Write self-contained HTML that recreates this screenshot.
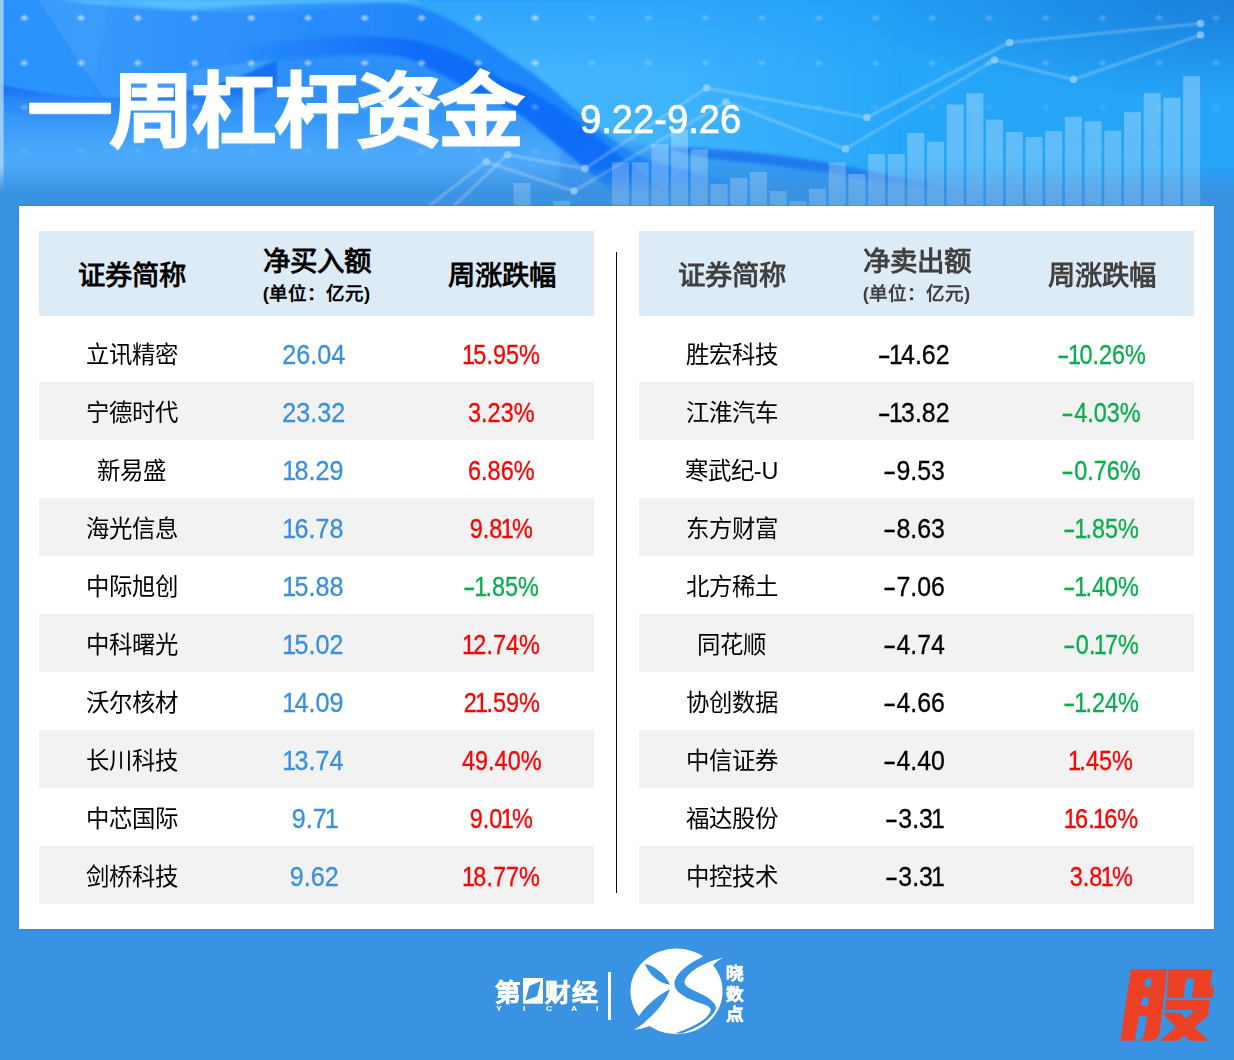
<!DOCTYPE html>
<html lang="zh-CN">
<head>
<meta charset="utf-8">
<title>一周杠杆资金</title>
<style>
html,body{margin:0;padding:0}
body{width:1234px;height:1060px;position:relative;overflow:hidden;background:#3a92e2;font-family:"Liberation Sans",sans-serif}
#hd{position:absolute;left:0;top:0;width:1234px;height:206px;display:block}
#title{position:absolute;left:27.5px;top:52px;margin:0;font-size:80px;line-height:120px;font-weight:900;color:#fff;white-space:nowrap;letter-spacing:-1.7px;-webkit-text-stroke:2.1px #fff;transform-origin:0 50%;transform:scaleX(1.05);text-shadow:-1px 2px 0 rgba(150,205,255,.55)}
#date{-webkit-text-stroke:.7px #fff;position:absolute;left:579.6px;top:97px;font-size:40.5px;line-height:44px;color:#fff;white-space:nowrap;transform-origin:0 50%;transform:scaleX(.942)}
#panel{position:absolute;left:19px;top:206px;width:1195px;height:723px;background:#fff;box-shadow:0 0 1.5px rgba(20,90,190,.7)}
#vline{position:absolute;left:616px;top:252px;width:1px;height:641px;background:#0a0a0a}
.tbl{position:absolute;top:231px;width:555px;height:673px}
.th{position:absolute;left:0;top:0;width:555px;height:85px;background:#ddebf7}
.tr{position:absolute;left:0;width:555px;height:58px}
.tr.alt{background:#f2f2f2}
.c{position:absolute;top:0;height:100%;width:185px;text-align:center;white-space:nowrap}
.c1{left:0}.c2{left:185px}.c3{left:370px}
.h1{font-size:27.3px;font-weight:700;color:#000;line-height:89px}
.h2a{display:block;font-size:27.5px;font-weight:700;color:#000;line-height:30px;margin-top:16px}
.h2b{display:block;font-size:18.5px;font-weight:700;color:#000;line-height:22px;margin-top:6px}
.nm{font-size:23.4px;color:#000;line-height:62px}
.num{font-size:27px;line-height:63.2px}
.num span{display:inline-block;transform:scaleX(.932)}
.num i{font-style:normal;margin:0 -2px}
.num b{font-weight:400;display:inline-block;transform:scaleX(1.6);margin:0 3px 0 2px}
.num{-webkit-text-stroke:.3px currentColor}
.c3.num span{transform:scaleX(.868)}
.c2.num{left:182.6px}
.c2.k span{transform:scaleX(.922)}
.b{color:#3b8fde}.k{color:#000}
.rt .h1,.rt .h2a,.rt .h2b{color:#404040}.r{color:#ff0000}.g{color:#08ae4e}
#ft{position:absolute;left:0;top:929px;width:1234px;height:131px;display:block}
.lg{position:absolute;top:976px;width:26px;height:34px;line-height:34px;font-size:23.3px;font-weight:700;color:#fff;-webkit-text-stroke:.6px #fff;white-space:nowrap;transform-origin:0 50%;transform:scaleX(1.1)}
.yc{position:absolute;top:1004px;height:9px;line-height:9px;font-size:6.4px;font-weight:700;color:#fff;transform-origin:0 50%;transform:scaleX(1.35);white-space:nowrap}
.xs{position:absolute;left:726.4px;width:18px;height:20px;line-height:20px;text-align:center;font-size:16px;font-weight:700;color:#fff;white-space:nowrap;-webkit-text-stroke:.5px #fff;transform:scaleX(1.1)}
</style>
</head>
<body>
<svg id="hd" viewBox="0 0 1234 206">
<defs>
<linearGradient id="bg" x1="0" y1="0" x2="1" y2="0"><stop offset="0" stop-color="#2a92fc"/><stop offset=".3" stop-color="#3298fb"/><stop offset=".5" stop-color="#28a8fb"/><stop offset=".75" stop-color="#26a6f8"/><stop offset="1" stop-color="#26a4f7"/></linearGradient>
<linearGradient id="fade" x1="0" y1="0" x2="0" y2="1">
<stop offset="0" stop-color="#3a92e2" stop-opacity="0"/><stop offset=".8" stop-color="#3a92e2" stop-opacity="0"/><stop offset=".935" stop-color="#3a92e2" stop-opacity="1"/><stop offset="1" stop-color="#3a92e2" stop-opacity="1"/>
</linearGradient>
<linearGradient id="barg" gradientUnits="userSpaceOnUse" x1="0" y1="76" x2="0" y2="206">
<stop offset="0" stop-color="#fff" stop-opacity=".29"/><stop offset=".6" stop-color="#fff" stop-opacity=".27"/><stop offset="1" stop-color="#fff" stop-opacity="0.17"/>
</linearGradient>
<linearGradient id="tr" x1="0" y1="0" x2="1" y2="0"><stop offset=".72" stop-color="#1c84de" stop-opacity="0"/><stop offset="1" stop-color="#1c84de" stop-opacity=".6"/></linearGradient>
<linearGradient id="low" gradientUnits="userSpaceOnUse" x1="0" y1="0" x2="0" y2="206"><stop offset=".4" stop-color="#2d8ff9"/><stop offset=".58" stop-color="#3798fa"/><stop offset=".73" stop-color="#4aa8fb"/><stop offset=".85" stop-color="#4fa9f8"/></linearGradient>
<linearGradient id="corg" gradientUnits="userSpaceOnUse" x1="230" y1="0" x2="420" y2="0"><stop offset="0" stop-color="#126cf8" stop-opacity="0"/><stop offset="1" stop-color="#126cf8" stop-opacity=".95"/></linearGradient>
<linearGradient id="cyg" gradientUnits="userSpaceOnUse" x1="380" y1="0" x2="900" y2="0"><stop offset="0" stop-color="#48b7fe" stop-opacity=".9"/><stop offset=".55" stop-color="#48b7fe" stop-opacity=".75"/><stop offset="1" stop-color="#48b7fe" stop-opacity="0"/></linearGradient>
<radialGradient id="trr" gradientUnits="userSpaceOnUse" cx="1234" cy="0" r="1" gradientTransform="translate(1234,0) scale(380,100) translate(-1234,0)"><stop offset="0" stop-color="#1a80dc" stop-opacity="1"/><stop offset="1" stop-color="#1a80dc" stop-opacity="0"/></radialGradient>
<linearGradient id="topd" gradientUnits="userSpaceOnUse" x1="0" y1="0" x2="0" y2="75"><stop offset="0" stop-color="#1f9cf8" stop-opacity=".6"/><stop offset="1" stop-color="#1f9cf8" stop-opacity="0"/></linearGradient>
<linearGradient id="ribg" gradientUnits="userSpaceOnUse" x1="110" y1="0" x2="420" y2="0"><stop offset="0" stop-color="#1e84fa" stop-opacity=".2"/><stop offset=".5" stop-color="#1e84fa" stop-opacity=".6"/><stop offset="1" stop-color="#1e84fa" stop-opacity=".95"/></linearGradient>
<linearGradient id="crg" gradientUnits="userSpaceOnUse" x1="0" y1="84" x2="0" y2="122"><stop offset=".1" stop-color="#126af2" stop-opacity=".8"/><stop offset=".5" stop-color="#1670f2" stop-opacity=".25"/><stop offset="1" stop-color="#1670ee" stop-opacity="0"/></linearGradient>
<linearGradient id="w2" gradientUnits="userSpaceOnUse" x1="760" y1="150" x2="745" y2="215"><stop offset="0" stop-color="#1a78ef" stop-opacity=".9"/><stop offset=".35" stop-color="#1d7df0" stop-opacity=".55"/><stop offset="1" stop-color="#2a8cf0" stop-opacity=".05"/></linearGradient>
<filter id="b05"><feGaussianBlur stdDeviation=".8"/></filter>
<filter id="b1"><feGaussianBlur stdDeviation="1.2"/></filter>
<filter id="b15"><feGaussianBlur stdDeviation="1.6"/></filter>
<filter id="b2"><feGaussianBlur stdDeviation="2.5"/></filter>
<filter id="b3"><feGaussianBlur stdDeviation="5"/></filter>
</defs>
<rect width="1234" height="206" fill="url(#bg)"/>
<path d="M110.0,0.0 C121.7,1.5 156.2,8.2 180.0,9.0 C203.8,9.8 228.7,6.0 253.0,5.0 C277.3,4.0 301.5,3.3 326.0,3.0 C350.5,2.7 382.0,1.8 400.0,3.4 C418.0,5.0 422.7,8.0 434.0,12.5 C445.3,17.0 456.7,23.8 468.0,30.6 C479.3,37.4 490.0,45.2 502.0,53.3 C514.0,61.4 528.6,70.7 540.0,79.4 C551.4,88.1 557.8,95.0 570.6,105.7 C583.4,116.4 602.1,133.9 617.0,143.6 C631.9,153.3 642.8,157.9 660.0,164.0 C677.2,170.1 703.3,173.0 720.0,180.0 C736.7,187.0 753.3,201.7 760.0,206.0 L1234,206 L1234,0 Z" fill="url(#cyg)" filter="url(#b2)"/>
<path d="M110.0,0.0 C121.7,1.5 156.2,8.2 180.0,9.0 C203.8,9.8 228.7,6.0 253.0,5.0 C277.3,4.0 301.5,3.3 326.0,3.0 C350.5,2.7 382.0,1.8 400.0,3.4 C418.0,5.0 422.7,8.0 434.0,12.5 C445.3,17.0 456.7,23.8 468.0,30.6 C479.3,37.4 490.0,45.2 502.0,53.3 C514.0,61.4 528.6,70.7 540.0,79.4 C551.4,88.1 557.8,95.0 570.6,105.7 C583.4,116.4 602.1,133.9 617.0,143.6 C631.9,153.3 642.8,157.9 660.0,164.0 C677.2,170.1 703.3,173.0 720.0,180.0 C736.7,187.0 753.3,201.7 760.0,206.0 L1234,206 L1234,0 Z" fill="url(#topd)"/>
<rect width="1234" height="206" fill="url(#trr)"/>
<path d="M60,0 C140,12 250,15 340,8 C380,5 400,2 420,0 Z" fill="#4cbcff" opacity=".9" filter="url(#b15)"/>
<path d="M38,0 L420,0 L420,110 L112,110 Z" fill="#fff" opacity=".075"/>
<path d="M0.0,85.0 C10.2,86.7 40.7,93.0 61.0,95.0 C81.3,97.0 99.7,97.8 122.0,97.0 C144.3,96.2 174.8,93.7 195.0,90.0 C215.2,86.3 229.3,80.0 243.0,75.0 C256.7,70.0 259.2,63.3 277.0,60.0 C294.8,56.7 329.5,55.5 350.0,55.0 C370.5,54.5 386.0,54.2 400.0,56.7 C414.0,59.2 423.4,65.4 434.0,70.3 C444.6,75.2 453.8,81.2 463.5,86.2 C473.2,91.2 482.6,95.3 492.0,100.0 C501.4,104.7 510.5,108.2 520.0,114.5 C529.5,120.8 541.7,131.9 549.0,137.8 C556.3,143.7 557.0,144.3 563.8,150.0 C570.6,155.7 579.8,162.7 590.0,172.0 C600.2,181.3 619.2,200.3 625.0,206.0 L0,206 Z" fill="url(#low)"/>
<path d="M560.0,118.0 C566.7,121.0 585.0,131.3 600.0,136.0 C615.0,140.7 632.2,143.8 650.0,146.0 C667.8,148.2 688.3,148.1 707.0,149.5 C725.7,150.9 742.0,152.1 762.0,154.5 C782.0,156.9 808.1,160.8 827.0,164.0 C845.9,167.2 859.3,170.7 875.5,174.0 C891.7,177.3 907.8,180.5 924.0,183.7 C940.2,186.9 955.1,189.7 972.8,193.4 C990.5,197.1 1020.5,203.9 1030.0,206.0 L560,206 Z" fill="#3588ea" opacity=".5" filter="url(#b2)"/>
<path d="M670.0,147.0 C676.2,147.3 691.7,147.9 707.0,149.0 C722.3,150.1 742.0,151.2 762.0,153.5 C782.0,155.8 808.1,159.8 827.0,163.0 C845.9,166.2 859.3,169.7 875.5,173.0 C891.7,176.3 907.8,179.5 924.0,182.7 C940.2,185.9 958.5,189.5 972.8,192.4 C987.1,195.3 1003.8,198.7 1010.0,200.0 L1010.0,201.0 C1003.8,200.3 987.1,198.8 972.8,197.0 C958.5,195.2 940.2,192.5 924.0,190.0 C907.8,187.5 891.7,184.8 875.5,182.0 C859.3,179.2 845.9,176.0 827.0,173.0 C808.1,170.0 782.0,166.5 762.0,164.0 C742.0,161.5 722.3,160.5 707.0,158.0 C691.7,155.5 676.2,150.5 670.0,149.0 Z" fill="#1a74ee" opacity=".85" filter="url(#b15)"/>
<path d="M110.0,0.0 C121.7,1.5 156.2,8.2 180.0,9.0 C203.8,9.8 228.7,6.0 253.0,5.0 C277.3,4.0 301.5,3.3 326.0,3.0 C350.5,2.7 382.0,1.8 400.0,3.4 C418.0,5.0 422.7,8.0 434.0,12.5 C445.3,17.0 456.7,23.8 468.0,30.6 C479.3,37.4 490.0,45.2 502.0,53.3 C514.0,61.4 528.6,70.7 540.0,79.4 C551.4,88.1 557.8,95.0 570.6,105.7 C583.4,116.4 602.1,133.9 617.0,143.6 C631.9,153.3 642.8,157.9 660.0,164.0 C677.2,170.1 703.3,173.0 720.0,180.0 C736.7,187.0 753.3,201.7 760.0,206.0 L625.0,206.0 C619.2,200.3 600.2,181.3 590.0,172.0 C579.8,162.7 570.6,155.7 563.8,150.0 C557.0,144.3 556.3,143.7 549.0,137.8 C541.7,131.9 529.5,120.8 520.0,114.5 C510.5,108.2 501.4,104.7 492.0,100.0 C482.6,95.3 473.2,91.2 463.5,86.2 C453.8,81.2 444.6,75.2 434.0,70.3 C423.4,65.4 414.0,59.2 400.0,56.7 C386.0,54.2 370.5,54.5 350.0,55.0 C329.5,55.5 305.3,57.2 277.0,60.0 C248.7,62.8 204.5,67.7 180.0,72.0 C155.5,76.3 145.0,81.3 130.0,86.0 C115.0,90.7 96.7,97.7 90.0,100.0 Z" fill="url(#ribg)" filter="url(#b15)"/>
<path d="M230.0,48.0 C241.7,46.7 280.0,41.9 300.0,40.0 C320.0,38.1 333.3,36.7 350.0,36.5 C366.7,36.3 386.0,37.1 400.0,38.6 C414.0,40.1 422.7,42.0 434.0,45.4 C445.3,48.8 456.7,53.3 468.0,59.0 C479.3,64.7 493.3,75.0 502.0,79.4 C510.7,83.8 510.5,80.4 520.0,85.3 C529.5,90.2 546.0,99.8 559.0,108.6 C572.0,117.3 588.9,130.9 597.8,137.8 C606.7,144.7 605.4,144.5 612.4,150.0 C619.4,155.5 627.1,161.7 640.0,171.0 C652.9,180.3 681.7,200.2 690.0,206.0 L625.0,206.0 C619.2,200.3 600.2,181.3 590.0,172.0 C579.8,162.7 570.6,155.7 563.8,150.0 C557.0,144.3 556.3,143.7 549.0,137.8 C541.7,131.9 529.5,120.8 520.0,114.5 C510.5,108.2 501.4,104.7 492.0,100.0 C482.6,95.3 473.2,91.2 463.5,86.2 C453.8,81.2 444.6,75.2 434.0,70.3 C423.4,65.4 414.0,59.2 400.0,56.7 C386.0,54.2 370.5,54.5 350.0,55.0 C329.5,55.5 297.0,58.5 277.0,60.0 C257.0,61.5 237.8,63.3 230.0,64.0 Z" fill="url(#corg)" filter="url(#b15)"/>
<path d="M0.0,85.0 C10.2,86.7 40.7,93.0 61.0,95.0 C81.3,97.0 99.7,97.8 122.0,97.0 C144.3,96.2 174.8,93.7 195.0,90.0 C215.2,86.3 229.3,80.0 243.0,75.0 C256.7,70.0 271.3,62.5 277.0,60.0 L277.0,84.0 C271.3,87.3 256.7,98.3 243.0,104.0 C229.3,109.7 215.2,114.7 195.0,118.0 C174.8,121.3 144.3,123.3 122.0,124.0 C99.7,124.7 81.3,124.0 61.0,122.0 C40.7,120.0 10.2,113.7 0.0,112.0 Z" fill="url(#crg)" filter="url(#b1)"/>
<rect x="0" y="0" width="3.6" height="206" fill="#a8d5fb" opacity=".85"/>
<g fill="#fff" filter="url(#b05)"><path d="M20.0,18 L24.3,14.7 L28.6,18 L24.3,21.3 Z" opacity="0.55"/><path d="M76.8,18 L81.0,14.7 L85.3,18 L81.0,21.3 Z" opacity="0.55"/><path d="M133.5,18 L137.8,14.7 L142.1,18 L137.8,21.3 Z" opacity="0.55"/><path d="M190.2,18 L194.6,14.7 L198.9,18 L194.6,21.3 Z" opacity="0.55"/><path d="M247.0,18 L251.3,14.7 L255.6,18 L251.3,21.3 Z" opacity="0.55"/><path d="M303.8,18 L308.1,14.7 L312.4,18 L308.1,21.3 Z" opacity="0.55"/><path d="M360.5,18 L364.8,14.7 L369.1,18 L364.8,21.3 Z" opacity="0.55"/><path d="M417.2,18 L421.6,14.7 L425.9,18 L421.6,21.3 Z" opacity="0.55"/><path d="M474.0,18 L478.3,14.7 L482.6,18 L478.3,21.3 Z" opacity="0.55"/><path d="M530.8,18 L535.0,14.7 L539.3,18 L535.0,21.3 Z" opacity="0.55"/><path d="M587.5,18 L591.8,14.7 L596.1,18 L591.8,21.3 Z" opacity="0.22"/><path d="M644.2,18 L648.5,14.7 L652.8,18 L648.5,21.3 Z" opacity="0.22"/><path d="M701.0,18 L705.3,14.7 L709.6,18 L705.3,21.3 Z" opacity="0.22"/><path d="M757.8,18 L762.0,14.7 L766.3,18 L762.0,21.3 Z" opacity="0.22"/><path d="M814.5,18 L818.8,14.7 L823.1,18 L818.8,21.3 Z" opacity="0.22"/><path d="M871.2,18 L875.5,14.7 L879.8,18 L875.5,21.3 Z" opacity="0.22"/><path d="M928.0,18 L932.3,14.7 L936.6,18 L932.3,21.3 Z" opacity="0.22"/><path d="M984.8,18 L989.0,14.7 L993.3,18 L989.0,21.3 Z" opacity="0.22"/><path d="M1041.5,18 L1045.8,14.7 L1050.1,18 L1045.8,21.3 Z" opacity="0.22"/><path d="M1098.2,18 L1102.5,14.7 L1106.8,18 L1102.5,21.3 Z" opacity="0.22"/><path d="M1155.0,18 L1159.3,14.7 L1163.6,18 L1159.3,21.3 Z" opacity="0.22"/><path d="M1211.8,18 L1216.0,14.7 L1220.3,18 L1216.0,21.3 Z" opacity="0.22"/><path d="M20.0,63 L24.3,59.7 L28.6,63 L24.3,66.3 Z" opacity="0.50"/><path d="M76.8,63 L81.0,59.7 L85.3,63 L81.0,66.3 Z" opacity="0.50"/><path d="M133.5,63 L137.8,59.7 L142.1,63 L137.8,66.3 Z" opacity="0.50"/><path d="M190.2,63 L194.6,59.7 L198.9,63 L194.6,66.3 Z" opacity="0.50"/><path d="M247.0,63 L251.3,59.7 L255.6,63 L251.3,66.3 Z" opacity="0.50"/><path d="M303.8,63 L308.1,59.7 L312.4,63 L308.1,66.3 Z" opacity="0.50"/><path d="M360.5,63 L364.8,59.7 L369.1,63 L364.8,66.3 Z" opacity="0.50"/><path d="M417.2,63 L421.6,59.7 L425.9,63 L421.6,66.3 Z" opacity="0.50"/><path d="M474.0,63 L478.3,59.7 L482.6,63 L478.3,66.3 Z" opacity="0.50"/><path d="M530.8,63 L535.0,59.7 L539.3,63 L535.0,66.3 Z" opacity="0.50"/><path d="M587.5,63 L591.8,59.7 L596.1,63 L591.8,66.3 Z" opacity="0.20"/><path d="M644.2,63 L648.5,59.7 L652.8,63 L648.5,66.3 Z" opacity="0.20"/><path d="M701.0,63 L705.3,59.7 L709.6,63 L705.3,66.3 Z" opacity="0.20"/><path d="M757.8,63 L762.0,59.7 L766.3,63 L762.0,66.3 Z" opacity="0.20"/><path d="M814.5,63 L818.8,59.7 L823.1,63 L818.8,66.3 Z" opacity="0.20"/><path d="M871.2,63 L875.5,59.7 L879.8,63 L875.5,66.3 Z" opacity="0.20"/><path d="M928.0,63 L932.3,59.7 L936.6,63 L932.3,66.3 Z" opacity="0.20"/><path d="M984.8,63 L989.0,59.7 L993.3,63 L989.0,66.3 Z" opacity="0.20"/><path d="M1041.5,63 L1045.8,59.7 L1050.1,63 L1045.8,66.3 Z" opacity="0.20"/><path d="M1098.2,63 L1102.5,59.7 L1106.8,63 L1102.5,66.3 Z" opacity="0.20"/><path d="M1155.0,63 L1159.3,59.7 L1163.6,63 L1159.3,66.3 Z" opacity="0.20"/><path d="M1211.8,63 L1216.0,59.7 L1220.3,63 L1216.0,66.3 Z" opacity="0.20"/><path d="M20.0,107 L24.3,103.7 L28.6,107 L24.3,110.3 Z" opacity="0.26"/><path d="M76.8,107 L81.0,103.7 L85.3,107 L81.0,110.3 Z" opacity="0.26"/><path d="M133.5,107 L137.8,103.7 L142.1,107 L137.8,110.3 Z" opacity="0.26"/><path d="M190.2,107 L194.6,103.7 L198.9,107 L194.6,110.3 Z" opacity="0.26"/><path d="M247.0,107 L251.3,103.7 L255.6,107 L251.3,110.3 Z" opacity="0.26"/><path d="M303.8,107 L308.1,103.7 L312.4,107 L308.1,110.3 Z" opacity="0.26"/><path d="M360.5,107 L364.8,103.7 L369.1,107 L364.8,110.3 Z" opacity="0.26"/><path d="M417.2,107 L421.6,103.7 L425.9,107 L421.6,110.3 Z" opacity="0.26"/><path d="M474.0,107 L478.3,103.7 L482.6,107 L478.3,110.3 Z" opacity="0.26"/><path d="M530.8,107 L535.0,103.7 L539.3,107 L535.0,110.3 Z" opacity="0.26"/><path d="M587.5,107 L591.8,103.7 L596.1,107 L591.8,110.3 Z" opacity="0.10"/><path d="M644.2,107 L648.5,103.7 L652.8,107 L648.5,110.3 Z" opacity="0.10"/><path d="M701.0,107 L705.3,103.7 L709.6,107 L705.3,110.3 Z" opacity="0.10"/><path d="M757.8,107 L762.0,103.7 L766.3,107 L762.0,110.3 Z" opacity="0.10"/><path d="M814.5,107 L818.8,103.7 L823.1,107 L818.8,110.3 Z" opacity="0.10"/><path d="M871.2,107 L875.5,103.7 L879.8,107 L875.5,110.3 Z" opacity="0.10"/><path d="M928.0,107 L932.3,103.7 L936.6,107 L932.3,110.3 Z" opacity="0.10"/><path d="M984.8,107 L989.0,103.7 L993.3,107 L989.0,110.3 Z" opacity="0.10"/><path d="M1041.5,107 L1045.8,103.7 L1050.1,107 L1045.8,110.3 Z" opacity="0.10"/><path d="M1098.2,107 L1102.5,103.7 L1106.8,107 L1102.5,110.3 Z" opacity="0.10"/><path d="M1155.0,107 L1159.3,103.7 L1163.6,107 L1159.3,110.3 Z" opacity="0.10"/><path d="M1211.8,107 L1216.0,103.7 L1220.3,107 L1216.0,110.3 Z" opacity="0.10"/><path d="M20.0,151 L24.3,147.7 L28.6,151 L24.3,154.3 Z" opacity="0.10"/><path d="M76.8,151 L81.0,147.7 L85.3,151 L81.0,154.3 Z" opacity="0.10"/><path d="M133.5,151 L137.8,147.7 L142.1,151 L137.8,154.3 Z" opacity="0.10"/><path d="M190.2,151 L194.6,147.7 L198.9,151 L194.6,154.3 Z" opacity="0.10"/><path d="M247.0,151 L251.3,147.7 L255.6,151 L251.3,154.3 Z" opacity="0.10"/><path d="M303.8,151 L308.1,147.7 L312.4,151 L308.1,154.3 Z" opacity="0.10"/><path d="M360.5,151 L364.8,147.7 L369.1,151 L364.8,154.3 Z" opacity="0.10"/><path d="M417.2,151 L421.6,147.7 L425.9,151 L421.6,154.3 Z" opacity="0.10"/><path d="M474.0,151 L478.3,147.7 L482.6,151 L478.3,154.3 Z" opacity="0.10"/><path d="M530.8,151 L535.0,147.7 L539.3,151 L535.0,154.3 Z" opacity="0.10"/><path d="M587.5,151 L591.8,147.7 L596.1,151 L591.8,154.3 Z" opacity="0.04"/><path d="M644.2,151 L648.5,147.7 L652.8,151 L648.5,154.3 Z" opacity="0.04"/><path d="M701.0,151 L705.3,147.7 L709.6,151 L705.3,154.3 Z" opacity="0.04"/><path d="M757.8,151 L762.0,147.7 L766.3,151 L762.0,154.3 Z" opacity="0.04"/><path d="M814.5,151 L818.8,147.7 L823.1,151 L818.8,154.3 Z" opacity="0.04"/><path d="M871.2,151 L875.5,147.7 L879.8,151 L875.5,154.3 Z" opacity="0.04"/><path d="M928.0,151 L932.3,147.7 L936.6,151 L932.3,154.3 Z" opacity="0.04"/><path d="M984.8,151 L989.0,147.7 L993.3,151 L989.0,154.3 Z" opacity="0.04"/><path d="M1041.5,151 L1045.8,147.7 L1050.1,151 L1045.8,154.3 Z" opacity="0.04"/><path d="M1098.2,151 L1102.5,147.7 L1106.8,151 L1102.5,154.3 Z" opacity="0.04"/><path d="M1155.0,151 L1159.3,147.7 L1163.6,151 L1159.3,154.3 Z" opacity="0.04"/><path d="M1211.8,151 L1216.0,147.7 L1220.3,151 L1216.0,154.3 Z" opacity="0.04"/></g>
<rect width="1234" height="206" fill="url(#fade)"/>
<g fill="url(#barg)"><rect x="513.5" y="183" width="17" height="23.0"/><rect x="553" y="201" width="17" height="5.0"/><rect x="612" y="162.4" width="17" height="43.6"/><rect x="631.7" y="162.4" width="17" height="43.6"/><rect x="651.4" y="144.3" width="17" height="61.7"/><rect x="671" y="129.5" width="17" height="76.5"/><rect x="690.8" y="149.5" width="17" height="56.5"/><rect x="710.5" y="184" width="17" height="22.0"/><rect x="730.2" y="178" width="17" height="28.0"/><rect x="749.9" y="172" width="17" height="34.0"/><rect x="769.6" y="191" width="17" height="15.0"/><rect x="789.3" y="201.3" width="17" height="4.7"/><rect x="809" y="188.8" width="17" height="17.2"/><rect x="828.7" y="162.4" width="17" height="43.6"/><rect x="848.4" y="174" width="17" height="32.0"/><rect x="868.1" y="154" width="17" height="52.0"/><rect x="887.8" y="154" width="17" height="52.0"/><rect x="907.3" y="133" width="17" height="73.0"/><rect x="927" y="141.7" width="17" height="64.3"/><rect x="946.7" y="104.5" width="17" height="101.5"/><rect x="966.4" y="93.2" width="17" height="112.8"/><rect x="986" y="119.6" width="17" height="86.4"/><rect x="1005.8" y="132" width="17" height="74.0"/><rect x="1025.5" y="137" width="17" height="69.0"/><rect x="1045.2" y="131" width="17" height="75.0"/><rect x="1064.9" y="116.8" width="17" height="89.2"/><rect x="1084.6" y="121.3" width="17" height="84.7"/><rect x="1104.3" y="130.8" width="17" height="75.2"/><rect x="1124" y="112.2" width="17" height="93.8"/><rect x="1143.7" y="93.2" width="17" height="112.8"/><rect x="1163.4" y="97.8" width="17" height="108.2"/><rect x="1183.1" y="76.3" width="17" height="129.7"/></g>
<g fill="none" stroke="#fff" stroke-opacity=".27" stroke-width="2.6" stroke-linejoin="round" filter="url(#b05)"><polyline points="453.7,206 507.4,154.8 585,168.6 706.5,88 867,117.5 1009.5,42.5 1200.5,23.5"/><polyline points="429,206 486.2,161.7 574,191 726,102 845.5,149 994.5,60 1073.5,79.5 1200.5,35"/></g>
<g fill="#a9d8fc" opacity=".62"><circle cx="507.4" cy="154.8" r="3.8"/><circle cx="585" cy="168.6" r="3.8"/><circle cx="706.5" cy="88" r="3.8"/><circle cx="867" cy="117.5" r="3.8"/><circle cx="1009.5" cy="42.5" r="3.8"/><circle cx="1200.5" cy="23.5" r="3.8"/><circle cx="486.2" cy="161.7" r="3.8"/><circle cx="574" cy="191" r="3.8"/><circle cx="726" cy="102" r="3.8"/><circle cx="845.5" cy="149" r="3.8"/><circle cx="994.5" cy="60" r="3.8"/><circle cx="1073.5" cy="79.5" r="3.8"/><circle cx="1200.5" cy="35" r="3.8"/></g>
</svg>
<h1 id="title">一周杠杆资金</h1>
<div id="date">9.22-9.26</div>
<div id="panel"></div>
<div class="tbl" style="left:39px">
<div class="th"><div class="c c1 h1">证券简称</div><div class="c c2 h2"><span class="h2a">净买入额</span><span class="h2b">(单位：亿元)</span></div><div class="c c3 h1">周涨跌幅</div></div>
<div class="tr" style="top:93px"><div class="c c1 nm">立讯精密</div><div class="c c2 num b"><span>26.04</span></div><div class="c c3 num r"><span><i>1</i>5.95%</span></div></div>
<div class="tr alt" style="top:151px"><div class="c c1 nm">宁德时代</div><div class="c c2 num b"><span>23.32</span></div><div class="c c3 num r"><span>3.23%</span></div></div>
<div class="tr" style="top:209px"><div class="c c1 nm">新易盛</div><div class="c c2 num b"><span><i>1</i>8.29</span></div><div class="c c3 num r"><span>6.86%</span></div></div>
<div class="tr alt" style="top:267px"><div class="c c1 nm">海光信息</div><div class="c c2 num b"><span><i>1</i>6.78</span></div><div class="c c3 num r"><span>9.8<i>1</i>%</span></div></div>
<div class="tr" style="top:325px"><div class="c c1 nm">中际旭创</div><div class="c c2 num b"><span><i>1</i>5.88</span></div><div class="c c3 num g"><span><b>-</b><i>1</i>.85%</span></div></div>
<div class="tr alt" style="top:383px"><div class="c c1 nm">中科曙光</div><div class="c c2 num b"><span><i>1</i>5.02</span></div><div class="c c3 num r"><span><i>1</i>2.74%</span></div></div>
<div class="tr" style="top:441px"><div class="c c1 nm">沃尔核材</div><div class="c c2 num b"><span><i>1</i>4.09</span></div><div class="c c3 num r"><span>2<i>1</i>.59%</span></div></div>
<div class="tr alt" style="top:499px"><div class="c c1 nm">长川科技</div><div class="c c2 num b"><span><i>1</i>3.74</span></div><div class="c c3 num r"><span>49.40%</span></div></div>
<div class="tr" style="top:557px"><div class="c c1 nm">中芯国际</div><div class="c c2 num b"><span>9.7<i>1</i></span></div><div class="c c3 num r"><span>9.0<i>1</i>%</span></div></div>
<div class="tr alt" style="top:615px"><div class="c c1 nm">剑桥科技</div><div class="c c2 num b"><span>9.62</span></div><div class="c c3 num r"><span><i>1</i>8.77%</span></div></div>
</div>
<div class="tbl rt" style="left:639px">
<div class="th"><div class="c c1 h1">证券简称</div><div class="c c2 h2"><span class="h2a">净卖出额</span><span class="h2b">(单位：亿元)</span></div><div class="c c3 h1">周涨跌幅</div></div>
<div class="tr" style="top:93px"><div class="c c1 nm">胜宏科技</div><div class="c c2 num k"><span><b>-</b><i>1</i>4.62</span></div><div class="c c3 num g"><span><b>-</b><i>1</i>0.26%</span></div></div>
<div class="tr alt" style="top:151px"><div class="c c1 nm">江淮汽车</div><div class="c c2 num k"><span><b>-</b><i>1</i>3.82</span></div><div class="c c3 num g"><span><b>-</b>4.03%</span></div></div>
<div class="tr" style="top:209px"><div class="c c1 nm">寒武纪-U</div><div class="c c2 num k"><span><b>-</b>9.53</span></div><div class="c c3 num g"><span><b>-</b>0.76%</span></div></div>
<div class="tr alt" style="top:267px"><div class="c c1 nm">东方财富</div><div class="c c2 num k"><span><b>-</b>8.63</span></div><div class="c c3 num g"><span><b>-</b><i>1</i>.85%</span></div></div>
<div class="tr" style="top:325px"><div class="c c1 nm">北方稀土</div><div class="c c2 num k"><span><b>-</b>7.06</span></div><div class="c c3 num g"><span><b>-</b><i>1</i>.40%</span></div></div>
<div class="tr alt" style="top:383px"><div class="c c1 nm">同花顺</div><div class="c c2 num k"><span><b>-</b>4.74</span></div><div class="c c3 num g"><span><b>-</b>0.<i>1</i>7%</span></div></div>
<div class="tr" style="top:441px"><div class="c c1 nm">协创数据</div><div class="c c2 num k"><span><b>-</b>4.66</span></div><div class="c c3 num g"><span><b>-</b><i>1</i>.24%</span></div></div>
<div class="tr alt" style="top:499px"><div class="c c1 nm">中信证券</div><div class="c c2 num k"><span><b>-</b>4.40</span></div><div class="c c3 num r"><span><i>1</i>.45%</span></div></div>
<div class="tr" style="top:557px"><div class="c c1 nm">福达股份</div><div class="c c2 num k"><span><b>-</b>3.3<i>1</i></span></div><div class="c c3 num r"><span><i>1</i>6.<i>1</i>6%</span></div></div>
<div class="tr alt" style="top:615px"><div class="c c1 nm">中控技术</div><div class="c c2 num k"><span><b>-</b>3.3<i>1</i></span></div><div class="c c3 num r"><span>3.8<i>1</i>%</span></div></div>
</div>
<div id="vline"></div>
<svg id="ft" viewBox="0 929 1234 131">
<rect x="608" y="972" width="3" height="48" fill="#fff"/>
<rect x="523" y="978" width="20" height="25.7" fill="#fff"/>
<path d="M529.2,986 L540.6,981.3 L537.2,996.3 L525.3,1000.6 Z" fill="#3a92e2"/>
<g transform="translate(620,940) scale(0.113456)">
<ellipse cx="498" cy="452" rx="406" ry="378" fill="#fff"/>
<path d="M920,152 C870,172 840,198 815,230 L700,320 L640,275 C740,200 830,165 920,152 Z" fill="#fff"/>
<path d="M120,790 C200,750 260,700 310,640 L400,700 L262,758 C220,775 170,788 120,790 Z" fill="#fff"/>
<path d="M220,212 C300,225 400,300 440,395 C360,385 260,320 220,212 Z" fill="#3a92e2"/>
<path d="M440,435 C330,490 230,580 170,665 C150,700 135,750 120,790 C250,720 400,560 440,435 Z" fill="#3a92e2"/>
<path d="M725,150 C620,200 500,280 480,370 C470,450 560,500 660,540 C740,570 800,580 800,620 C790,690 650,770 480,825 L545,822 C690,775 805,700 846,606 C850,560 790,510 700,470 C620,430 560,410 570,360 C590,290 720,200 920,152 L760,120 Z" fill="#3a92e2"/>
</g>
<g transform="translate(1100,950) scale(0.10859)" fill="#ee4024">
<path fill-rule="evenodd" d="M285,175 L620,175 L548,770 L520,815 L480,835 L360,835 L408,790 L432,605 L360,605 L318,835 L188,835 Z M420,262 L478,262 L465,338 L407,338 Z M390,435 L452,435 L440,515 L377,515 Z"/>
<path d="M632,175 L1035,175 L1015,355 L1050,328 L1038,440 L848,440 L868,262 L795,262 L765,440 L612,440 Z"/>
<path d="M610,460 L1012,460 L995,605 L870,710 L1000,835 L830,835 L775,785 L720,835 L550,835 L700,710 L590,600 L592,578 L740,578 L790,632 L852,580 L855,550 L598,550 Z"/>
</g>
</svg>
<div class="lg" style="left:495.3px">第</div><div class="lg" style="left:545px">财</div><div class="lg" style="left:571.6px">经</div>
<div class="yc" style="left:495.8px">Y</div><div class="yc" style="left:523.2px">I</div><div class="yc" style="left:545.6px">C</div><div class="yc" style="left:570.6px">A</div><div class="yc" style="left:596px">I</div>
<div class="xs" style="top:963.5px">晓</div><div class="xs" style="top:984.8px">数</div><div class="xs" style="top:1004.8px">点</div>
</body>
</html>
